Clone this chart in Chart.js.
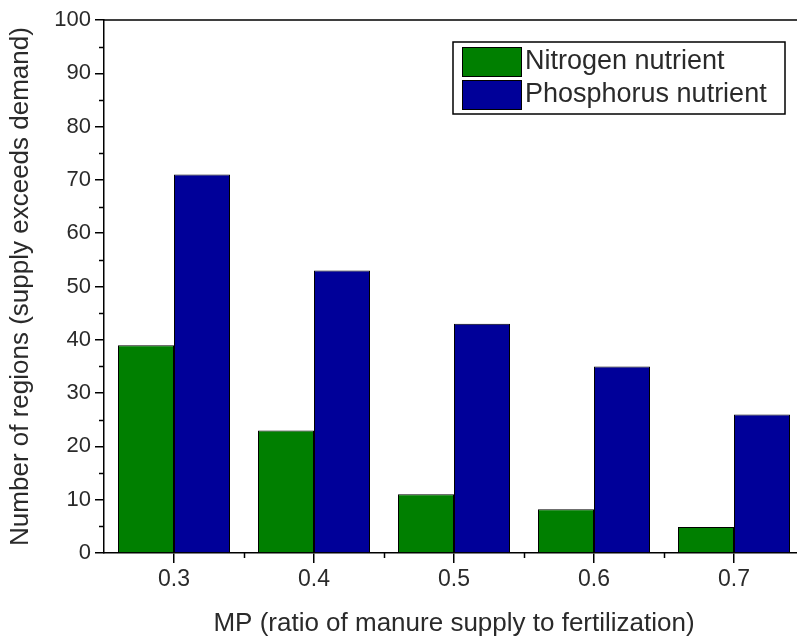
<!DOCTYPE html>
<html>
<head>
<meta charset="utf-8">
<script src="https://cdn.jsdelivr.net/npm/chart.js@4/dist/chart.umd.min.js"></script>
<style>
html,body{margin:0;padding:0;background:#fff;overflow:hidden}
#wrap{width:806px;height:641px;position:relative}
</style>
</head>
<body>
<div id="wrap"><canvas id="c"></canvas></div>
<script>
// data
const categories = ["0.3", "0.4", "0.5", "0.6", "0.7"];
const nitrogen = [39, 23, 11, 8.2, 4.9];
const phosphorus = [71, 53, 43, 35, 26];
const yMin = 0, yMax = 100, yStep = 10;

const FONT = "'Liberation Sans', Arial, sans-serif";
const TXT = "#2a2a2a";

// minor ticks, top frame line and the boxed legend
const extras = {
  id: "extras",
  afterDraw(chart){
    const ctx = chart.ctx, a = chart.chartArea;
    const x = chart.scales.x, y = chart.scales.y;
    ctx.save();
    ctx.strokeStyle = "#000";
    ctx.lineWidth = 1.5;
    ctx.beginPath();
    ctx.moveTo(a.left, a.top); ctx.lineTo(a.right, a.top);
    // y minor ticks
    for (let v = yMin + yStep/2; v < yMax; v += yStep){
      const py = Math.round(y.getPixelForValue(v)) + 0.5;
      ctx.moveTo(a.left - 5, py); ctx.lineTo(a.left, py);
    }
    // x minor ticks between categories
    for (let i = 0; i < categories.length - 1; i++){
      const px = Math.round((x.getPixelForValue(i) + x.getPixelForValue(i+1)) / 2) + 0.5;
      ctx.moveTo(px, a.bottom); ctx.lineTo(px, a.bottom + 5);
    }
    ctx.stroke();

    // legend
    const lx = 453, ly = 42, lw = 332, lh = 72;
    ctx.fillStyle = "#fff";
    ctx.fillRect(lx, ly, lw, lh);
    ctx.lineWidth = 1.5;
    ctx.strokeRect(lx, ly, lw, lh);
    ctx.font = "27px " + FONT;
    ctx.textBaseline = "middle";
    chart.data.datasets.forEach((ds, i) => {
      const sy = 47 + i * 33;
      ctx.fillStyle = ds.backgroundColor;
      ctx.fillRect(462, sy, 59, 29);
      ctx.lineWidth = 1;
      ctx.strokeRect(462.5, sy + 0.5, 59, 29);
      ctx.fillStyle = TXT;
      ctx.fillText(ds.label, 525, sy + 15);
    });
    ctx.restore();
  }
};

new Chart(document.getElementById("c"), {
  type: "bar",
  data: {
    labels: categories,
    datasets: [
      { label: "Nitrogen nutrient", data: nitrogen, backgroundColor: "#007f00", borderColor: "#000", borderWidth: 1 },
      { label: "Phosphorus nutrient", data: phosphorus, backgroundColor: "#000099", borderColor: "#000", borderWidth: 1 }
    ]
  },
  options: {
    responsive: true,
    maintainAspectRatio: false,
    animation: false,
    layout: { padding: { top: 20, right: 2, left: 0, bottom: 0 } },
    datasets: { bar: { categoryPercentage: 0.8, barPercentage: 1.0 } },
    plugins: { legend: { display: false }, tooltip: { enabled: false } },
    scales: {
      x: {
        afterFit(s){ s.height = 88; },
        grid: { display: true, offset: false, drawOnChartArea: false, color: "#000", tickColor: "#000", tickLength: 10, lineWidth: 1.5 },
        border: { display: true, color: "#000", width: 1.5 },
        ticks: { color: TXT, font: { family: FONT, size: 23 }, padding: 3, maxRotation: 0 },
        title: { display: true, text: "MP (ratio of manure supply to fertilization)", color: TXT, font: { family: FONT, size: 26 }, padding: { top: 0, bottom: 2 } }
      },
      y: {
        min: yMin, max: yMax,
        afterFit(s){ s.width = 104; },
        grid: { display: true, drawOnChartArea: false, color: "#000", tickColor: "#000", tickLength: 9, lineWidth: 1.5 },
        border: { display: true, color: "#000", width: 1.5 },
        ticks: { stepSize: yStep, color: TXT, font: { family: FONT, size: 22 }, padding: 4 },
        title: { display: true, text: "Number of regions (supply exceeds demand)", color: TXT, font: { family: FONT, size: 26 }, padding: { top: 5, bottom: 0 } }
      }
    }
  },
  plugins: [extras]
});
</script>
</body>
</html>
